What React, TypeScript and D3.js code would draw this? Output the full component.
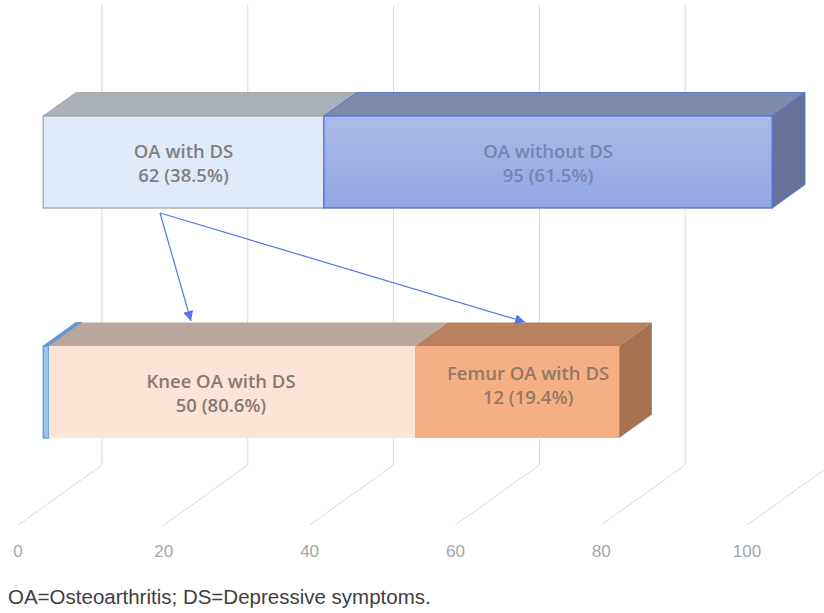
import React from "react";
import * as d3 from "d3";

// ---- data ----
const categories = ["All OA", "OA with DS"];
const topSeries = ["OA with DS", "OA without DS"];
const topValues = [38.5, 61.5];
const topLabels = ["62 (38.5%)", "95 (61.5%)"];
const bottomSeries = ["", "Knee OA with DS", "Femur OA with DS"];
const bottomValues = [0.8, 50.2, 28];
const bottomLabels = ["", "50 (80.6%)", "12 (19.4%)"];
const ticks = [0, 20, 40, 60, 80, 100];
const caption = "OA=Osteoarthritis; DS=Depressive symptoms.";

// ---- styles ----
const W = 824, H = 613;
const DX = 84, DY = 60; // full depth offset of the 3D box
const Z0 = 0.3, Z1 = 0.69; // bar depth range
const topStyles = [
  { front: "#e0eaf8", top: "#a9b0b7", side: "#9aa2aa", stroke: "#a6a6a6", text: "#7f7f7f", dx: 0, dy: 0 },
  { front: "url(#gBlue)", top: "#7e89ab", side: "#65739b", stroke: "#4f75d0", text: "#7784b2", dx: 0, dy: 0 },
];
const bottomStyles = [
  { front: "#9cc3ec", top: "#6f94c8", side: "#6f94c8", stroke: "#5b9bd5", text: "#000", dx: 0, dy: 0 },
  { front: "#fde4d6", top: "#b9a69d", side: "#b9a69d", stroke: "none", text: "#877870", dx: -11, dy: 0 },
  { front: "#f4b084", top: "#b7805f", side: "#a57352", stroke: "none", text: "#927866", dx: 11, dy: -8 },
];

export default function App() {
  const x = d3.scaleLinear().domain([0, 100]).range([18, 18 + 729]);
  const y = d3.scaleBand<string>().domain(categories).range([65, 525]).paddingInner(0.6).paddingOuter(0.3);
  const floorY = 525, topY = 65;
  const P = (v: number, yy: number, z: number): [number, number] => [x(v) + DX * z, yy - DY * z];
  const poly = (pts: [number, number][]) => pts.map((p) => p.join(",")).join(" ");

  const renderBar = (cat: string, values: number[], names: string[], labels: string[], styles: any[]) => {
    const y0 = y(cat)!, y1 = y0 + y.bandwidth();
    let acc = 0;
    const segs = values.map((v, i) => {
      const a = acc, b = acc + v;
      acc = b;
      return { a, b, i };
    });
    const last = segs.length - 1;
    return (
      <g key={cat}>
        {segs.map(({ a, b, i }) => {
          const s = styles[i];
          const fTL = P(a, y0, Z0), fBR = P(b, y1, Z0);
          const topFace = [P(a, y0, Z0), P(b, y0, Z0), P(b, y0, Z1), P(a, y0, Z1)] as [number, number][];
          const side = [P(b, y0, Z0), P(b, y0, Z1), P(b, y1, Z1), P(b, y1, Z0)] as [number, number][];
          return (
            <g key={i}>
              <polygon points={poly(topFace)} fill={s.top} stroke={s.stroke === "none" ? "none" : s.stroke} strokeWidth={1} />
              {i === last && <polygon points={poly(side)} fill={s.side} stroke={s.stroke} strokeWidth={1} />}
              <rect x={fTL[0]} y={fTL[1]} width={fBR[0] - fTL[0]} height={fBR[1] - fTL[1]} fill={s.front} stroke={s.stroke} strokeWidth={1.3} />
            </g>
          );
        })}
        {segs.map(({ a, b, i }) => {
          if (!names[i]) return null;
          const s = styles[i];
          const cx = (P(a, y0, Z0)[0] + P(b, y0, Z0)[0]) / 2 + s.dx;
          const cy = (P(a, y0, Z0)[1] + P(a, y1, Z0)[1]) / 2 + s.dy;
          return (
            <text key={"t" + i} x={cx} textAnchor="middle" fill={s.text} fontFamily="'Open Sans', Lato, sans-serif" fontWeight={600} fontSize={18.5}>
              <tspan x={cx} y={cy - 4}>{names[i]}</tspan>
              <tspan x={cx} y={cy + 20}>{labels[i]}</tspan>
            </text>
          );
        })}
      </g>
    );
  };

  return (
    <svg width={W} height={H} style={{ position: "absolute", left: 0, top: 0, background: "#fff" }}>
      <defs>
        <linearGradient id="gBlue" x1="0" y1="0" x2="0" y2="1">
          <stop offset="0" stopColor="#abbbe8" />
          <stop offset="1" stopColor="#92a7e2" />
        </linearGradient>
        <marker id="arrow" viewBox="0 0 10 10" refX="10" refY="5" markerWidth="10" markerHeight="10" markerUnits="userSpaceOnUse" orient="auto">
          <path d="M0,0 L10,5 L0,10 z" fill="#5279e0" />
        </marker>
      </defs>
      {/* gridlines */}
      {ticks.map((t) => {
        const a = P(t, floorY, 0), b = P(t, floorY, 1), c = P(t, topY, 1);
        return <polyline key={t} points={poly([a, b, c])} fill="none" stroke="#d9d9d9" strokeWidth={1} />;
      })}
      {/* tick labels */}
      {ticks.map((t) => (
        <text key={"l" + t} x={x(t)} y={557} textAnchor="middle" fill="#a6a6a6" fontFamily="'Liberation Sans', Arial, sans-serif" fontSize={17}>
          {t}
        </text>
      ))}
      {renderBar(categories[0], topValues, topSeries, topLabels, topStyles)}
      {renderBar(categories[1], bottomValues, bottomSeries, bottomLabels, bottomStyles)}
      {/* arrows */}
      <line x1={160} y1={213} x2={191} y2={321} stroke="#5279e0" strokeWidth={1.2} markerEnd="url(#arrow)" />
      <line x1={160} y1={213} x2={525} y2={322} stroke="#5279e0" strokeWidth={1.2} markerEnd="url(#arrow)" />
      <text x={8} y={604} fill="#404040" fontFamily="'Liberation Sans', Arial, sans-serif" fontSize={20.5}>
        {caption}
      </text>
    </svg>
  );
}
